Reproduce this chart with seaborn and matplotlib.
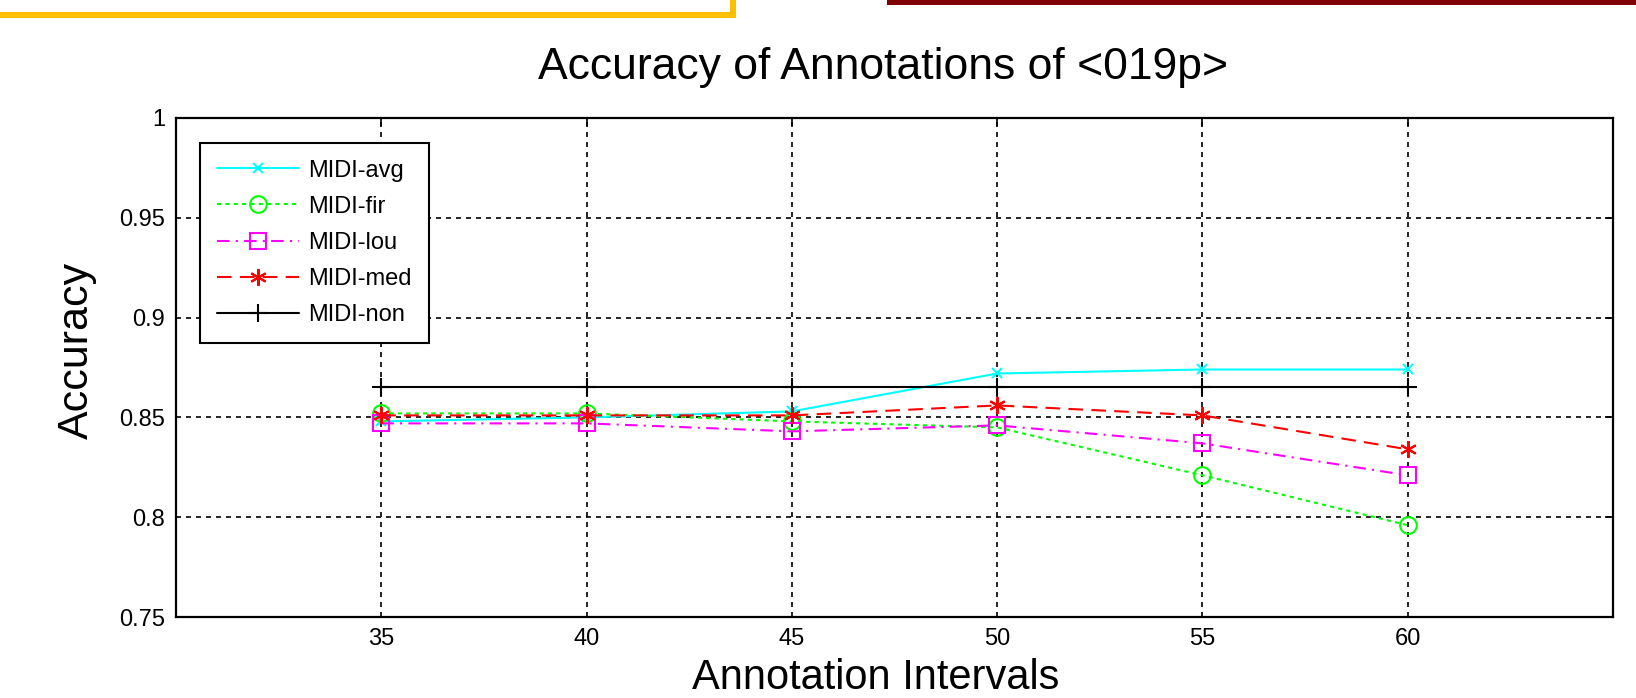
import matplotlib
matplotlib.use("Agg")
import matplotlib.pyplot as plt
from matplotlib.patches import Rectangle
import seaborn as sns
import pandas as pd

# ---- data ----
intervals = [35, 40, 45, 50, 55, 60]
midi_avg = [0.848, 0.850, 0.853, 0.872, 0.874, 0.874]
midi_fir = [0.852, 0.852, 0.848, 0.845, 0.821, 0.796]
midi_lou = [0.847, 0.847, 0.843, 0.846, 0.837, 0.821]
midi_med = [0.851, 0.851, 0.851, 0.856, 0.851, 0.834]
midi_non = [0.865, 0.865, 0.865, 0.865, 0.865, 0.865]
series_names = ["MIDI-avg", "MIDI-fir", "MIDI-lou", "MIDI-med", "MIDI-non"]
xticks = [35, 40, 45, 50, 55, 60]
yticks = [0.75, 0.8, 0.85, 0.9, 0.95, 1.0]
ytick_labels = ["0.75", "0.8", "0.85", "0.9", "0.95", "1"]
title = "Accuracy of Annotations of <019p>"
xlabel = "Annotation Intervals"
ylabel = "Accuracy"

sns.set_style("white")
plt.rcParams["font.family"] = ["Liberation Sans", "DejaVu Sans"]
plt.rcParams["text.color"] = "black"
plt.rcParams["axes.labelcolor"] = "black"
plt.rcParams["xtick.color"] = "black"
plt.rcParams["ytick.color"] = "black"

W, H = 1636, 698
fig = plt.figure(figsize=(W / 100, H / 100), dpi=100)

# slide decorations
fig.patches.append(Rectangle((0, 1 - 18 / H), 736 / W, 6 / H, transform=fig.transFigure,
                             facecolor="#FFC000", edgecolor="none"))
fig.patches.append(Rectangle((730 / W, 1 - 18 / H), 6 / W, 18 / H, transform=fig.transFigure,
                             facecolor="#FFC000", edgecolor="none"))
fig.patches.append(Rectangle((887 / W, 1 - 5 / H), (W - 887) / W, 5 / H, transform=fig.transFigure,
                             facecolor="#7F0000", edgecolor="none"))

ax = fig.add_axes([176 / W, 1 - 617 / H, (1613 - 176) / W, (617 - 118) / H])

styles = [
    dict(color="#00FFFF", linestyle="-", marker="x", markersize=7),
    dict(color="#00FF00", linestyle=(0, (2, 2)), marker="o", markersize=12),
    dict(color="#FF00FF", linestyle=(0, (6, 3, 1, 3)), marker="s", markersize=12),
    dict(color="#FF0000", linestyle=(0, (7, 4)), marker=(6, 2, 0), markersize=12),
    dict(color="#000000", linestyle="-", marker="+", markersize=13),
]
values = [midi_avg, midi_fir, midi_lou, midi_med, midi_non]

for name, vals, st in zip(series_names, values, styles):
    df = pd.DataFrame({"x": intervals, "y": vals})
    sns.lineplot(data=df, x="x", y="y", ax=ax, label=name,
                 color=st["color"], linestyle=st["linestyle"], linewidth=1.5,
                 marker=st["marker"], markersize=st["markersize"],
                 markerfacecolor="none", markeredgecolor=st["color"],
                 markeredgewidth=1.5, errorbar=None)

ax.set_xlim(30, 65)
ax.set_ylim(0.75, 1.0)
ax.set_xticks(xticks)
ax.set_xticklabels([str(v) for v in xticks])
ax.set_yticks(yticks)
ax.set_yticklabels(ytick_labels)
ax.set_xlabel("")
ax.set_ylabel("")

ax.set_axisbelow(True)
ax.grid(True, color="black", linestyle=(0, (3, 3)), linewidth=1.2)
for sp in ax.spines.values():
    sp.set_color("black")
    sp.set_linewidth(1.6)
    sp.set_visible(True)
ax.tick_params(direction="in", length=6, width=1.2, top=True, right=True,
               labelsize=17, pad=8, colors="black")

leg = ax.legend(loc="upper left", bbox_to_anchor=((200 - 176) / 1437, 1 - (143 - 118) / 499),
                borderaxespad=0, fontsize=17, frameon=True, fancybox=False,
                edgecolor="black", framealpha=1, handlelength=3.5, handletextpad=0.4,
                labelspacing=0.6, borderpad=0.7, numpoints=1)
leg.get_frame().set_linewidth(1.5)
for t in leg.get_texts():
    t.set_color("black")

fig.text(883 / W, 1 - 79 / H, title, ha="center", va="baseline", fontsize=32, color="black")
fig.text(77 / W, 1 - 350 / H, ylabel, ha="center", va="center", rotation=90, fontsize=31,
         color="black")
fig.text(876 / W, 1 - 689 / H, xlabel, ha="center", va="baseline", fontsize=30, color="black")

fig.savefig("out.png", dpi=100)
